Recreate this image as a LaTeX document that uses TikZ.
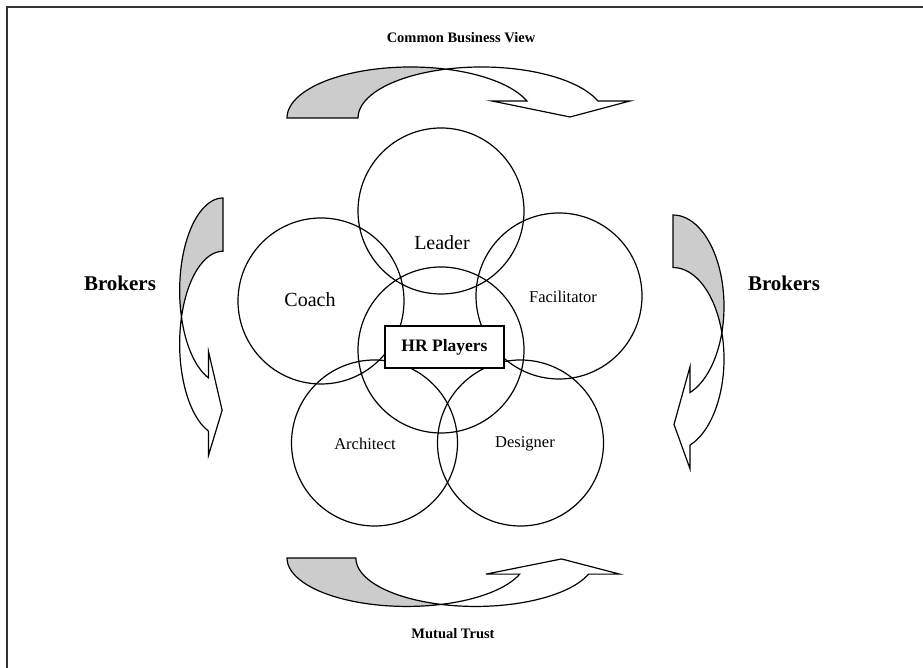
\documentclass[tikz,border=0pt]{standalone}
\usepackage{fontspec}
\setmainfont{Liberation Serif}
\newcommand\bizarrow{%
  \filldraw[band, fill=gray!40] (0,0)
    arc[start angle=180,end angle=73.3,x radius=123.5,y radius=51]
    arc[start angle=106.7,end angle=180,x radius=123.5,y radius=51] -- cycle;
  \filldraw[band, fill=white] (159,48.85)
    arc[start angle=106.7,end angle=19.47,x radius=123.5,y radius=51]
    -- (343,17) -- (283,1) -- (205,17) -- (239.9,17)
    arc[start angle=19.47,end angle=73.3,x radius=123.5,y radius=51] -- cycle;}
\begin{document}
\begin{tikzpicture}[x=1pt,y=1pt,
  ring/.style={draw, circle, line width=1.2pt, minimum size=166pt, inner sep=0pt},
  band/.style={draw, line width=1.2pt, line join=miter},
  big/.style={font=\fontsize{20}{24}\selectfont},
  small/.style={font=\fontsize{16.5}{20}\selectfont},
  brk/.style={font=\bfseries\fontsize{21}{25}\selectfont},
  captext/.style={font=\bfseries\fontsize{14.5}{17}\selectfont}]
\useasboundingbox (0,0) rectangle (923,668);
\fill[white] (0,0) rectangle (923,668);
\draw[line width=2pt, black!80] (7,-10) -- (7,661) -- (935,661);

% circles
\node[ring] (leader) at (441,457) {};
\node[ring] (coach) at (321,367) {};
\node[ring] (facil) at (559,372) {};
\node[ring] (hr) at (441,318) {};
\node[ring] (arch) at (374.5,225) {};
\node[ring] (design) at (520.5,225) {};

% labels
\node[big] (tleader) at (442,425) {Leader};
\node[big] (tcoach) at (310,368) {Coach};
\node[small] (tfacil) at (563,371) {Facilitator};
\node[small] (tarch) at (365,224) {Architect};
\node[small] (tdesign) at (525,224) {Designer};
\node[draw, fill=white, line width=1.2pt, minimum width=119pt, minimum height=42pt,
      inner sep=0pt, font=\bfseries\fontsize{17.5}{20}\selectfont] (hrbox) at (444.5,321) {HR Players};

\node[brk] (bl) at (120,385) {Brokers};
\node[brk] (br) at (784,385) {Brokers};
\node[captext] (cbv) at (461,630) {Common Business View};
\node[captext] (mt) at (453,34) {Mutual Trust};

% curved arrows
\begin{scope}[shift={(287,550)}] \bizarrow \end{scope}
\begin{scope}[shift={(287,110)}, xscale=0.97, yscale=-0.95] \bizarrow \end{scope}
\begin{scope}[cm={0,-0.75,-0.85,0,(223,470)}] \bizarrow \end{scope}
\begin{scope}[cm={0,-0.74,1,0,(673,453)}] \bizarrow \end{scope}
\end{tikzpicture}
\end{document}
